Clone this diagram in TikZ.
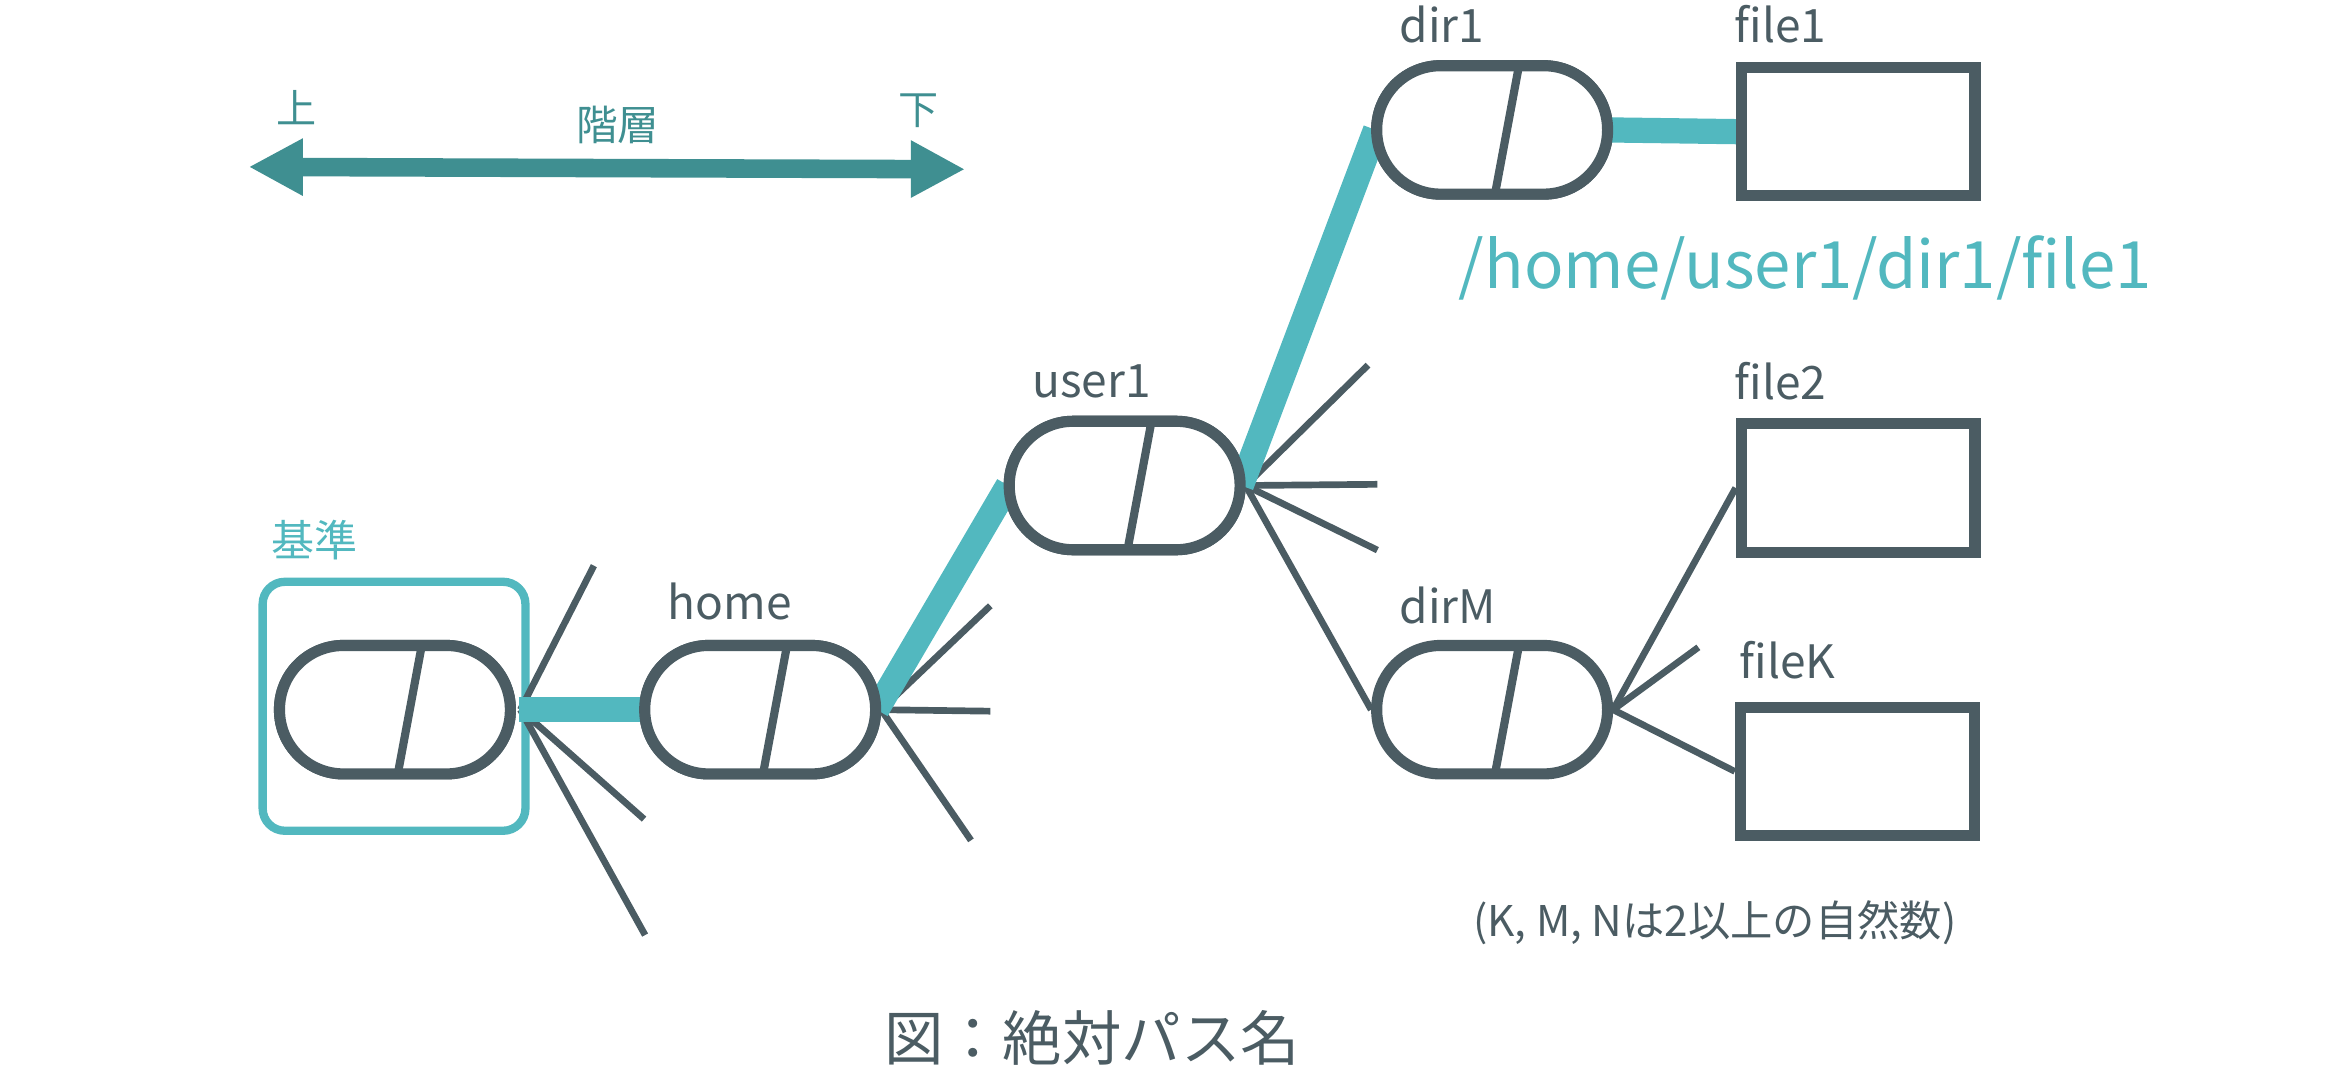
\documentclass[tikz,border=0pt]{standalone}
\usepackage{fontspec}
\setmainfont{Noto Sans CJK JP}
\usetikzlibrary{arrows.meta}
\definecolor{dgray}{HTML}{4B5C63}
\definecolor{lteal}{HTML}{52B8BF}
\definecolor{dteal}{HTML}{3F8F91}
\begin{document}
\begin{tikzpicture}[x=1pt,y=-1pt,
  pill/.style={draw=dgray, line width=7.5pt, fill=white, rounded corners=43pt,
    minimum width=155.5pt, minimum height=86.5pt, inner sep=0pt,
    path picture={\draw[dgray,line width=5.5pt,sharp corners] ([xshift=19pt,yshift=5pt]path picture bounding box.north) -- ([xshift=1pt,yshift=-5pt]path picture bounding box.south);}},
  filebox/.style={draw=dgray, line width=7.5pt, fill=white, minimum width=157.5pt, minimum height=86.5pt, inner sep=0pt},
  basebox/.style={draw=lteal, line width=5.6pt, rounded corners=15pt, minimum width=177pt, minimum height=167.7pt, inner sep=0pt},
  lbl/.style={font=\fontsize{31}{31}\selectfont, text=dgray, inner sep=0pt, anchor=base west},
  pathline/.style={draw=lteal, line width=17pt},
  branch/.style={draw=dgray, line width=4.5pt},
  hier/.style={text=dteal, inner sep=0pt, anchor=base},
]
\useasboundingbox (0,0) rectangle (1568,734.2);

% hierarchy arrow
\coordinate (upL) at (167.5,112.4);
\coordinate (upR) at (650,114);
\draw[dteal, line width=12.5pt, {Triangle[length=36.5pt,width=36pt]}-{Triangle[length=36.5pt,width=36pt]}] (upL) -- (upR);
\node[hier, font=\fontsize{27}{27}\selectfont] (ue) at (200,83) {上};
\node[hier, font=\fontsize{27}{27}\selectfont] (shita) at (618.5,84) {下};
\node[hier, font=\fontsize{28}{28}\selectfont] (kaiso) at (416,94.5) {階層};

% reference box
\node[basebox] (bbox) at (265.4,475.7) {};
\node[text=lteal, inner sep=0pt, anchor=base, font=\fontsize{29}{29}\selectfont] (kijun) at (212,375) {基準};

% node coordinates
\path (266,478) coordinate (pbase)
      (512,478) coordinate (phome)
      (757.5,327) coordinate (puser)
      (1005,87.5) coordinate (pdir1)
      (1005,478) coordinate (pdirM)
      (1251.5,88.7) coordinate (pf1)
      (1251.5,328.6) coordinate (pf2)
      (1251,519.6) coordinate (pfK);

% branch end points
\coordinate (b1) at (400,381);
\coordinate (b2) at (433.8,551.7);
\coordinate (b3) at (434.5,629.8);
\coordinate (h1) at (667,408);
\coordinate (h2) at (667,479);
\coordinate (h3) at (654,566);
\coordinate (u1) at (921.4,245.9);
\coordinate (u2) at (927.7,326.2);
\coordinate (u3) at (927.7,370.5);
\coordinate (m1) at (1143.9,436);

% nodes
\node[pill] (base) at (pbase) {};
\node[pill] (home) at (phome) {};
\node[pill] (user1) at (puser) {};
\node[pill] (dir1) at (pdir1) {};
\node[pill] (dirM) at (pdirM) {};
\node[filebox] (file1) at (pf1) {};
\node[filebox] (file2) at (pf2) {};
\node[filebox] (fileK) at (pfK) {};

% thin branches
\draw[branch] ([xshift=3pt]base.east) -- (b1);
\draw[branch] ([xshift=3pt]base.east) -- (b2);
\draw[branch] ([xshift=3pt]base.east) -- (b3);
\draw[branch] (home.east) -- (h1);
\draw[branch] (home.east) -- (h2);
\draw[branch] (home.east) -- (h3);
\draw[branch] (user1.east) -- (u1);
\draw[branch] (user1.east) -- (u2);
\draw[branch] (user1.east) -- (u3);
\draw[branch] (user1.east) -- (dirM.west);
\draw[branch] (dirM.east) -- (file2.west);
\draw[branch] (dirM.east) -- (m1);
\draw[branch] (dirM.east) -- (fileK.west);

% highlighted path
\draw[pathline] ([xshift=2pt]base.east) -- ([xshift=3pt]home.west);
\draw[pathline] ([xshift=-3pt]home.east) -- ([xshift=3pt]user1.west);
\draw[pathline] ([xshift=-3pt]user1.east) -- ([xshift=3pt]dir1.west);
\draw[pathline] ([xshift=-3pt]dir1.east) -- ([xshift=3pt]file1.west);

% redraw nodes on top of the highlighted path
\node[pill] at (pbase) {};
\node[pill] at (phome) {};
\node[pill] at (puser) {};
\node[pill] at (pdir1) {};
\node[filebox] at (pf1) {};

% labels
\node[lbl] (lhome) at ([xshift=19pt,yshift=13.5pt]home.north west) {home};
\node[lbl] (luser) at ([xshift=19pt,yshift=12pt]user1.north west) {user1};
\node[lbl] (ldir1) at ([xshift=19pt,yshift=12pt]dir1.north west) {dir1};
\node[lbl] (ldirM) at ([xshift=19pt,yshift=11pt]dirM.north west) {dirM};
\node[lbl] (lf1) at ([xshift=-1pt,yshift=13pt]file1.north west) {file1};
\node[lbl] (lf2) at ([xshift=-1pt,yshift=12.5pt]file2.north west) {file2};
\node[lbl] (lfK) at ([xshift=3pt,yshift=15.5pt]fileK.north west) {fileK};

\node[text=lteal, inner sep=0pt, anchor=base, font=\fontsize{44}{44}\selectfont] (abspath) at (1216,194) {/home/user1/dir1/file1};
\node[text=dgray, inner sep=0pt, anchor=base, font=\fontsize{28.5}{28.5}\selectfont] (note) at (1155,631) {(K, M, Nは2以上の自然数)};
\node[text=dgray, inner sep=0pt, anchor=base, font=\fontsize{40}{40}\selectfont] (caption) at (735.5,714) {図：絶対パス名};
\end{tikzpicture}
\end{document}
